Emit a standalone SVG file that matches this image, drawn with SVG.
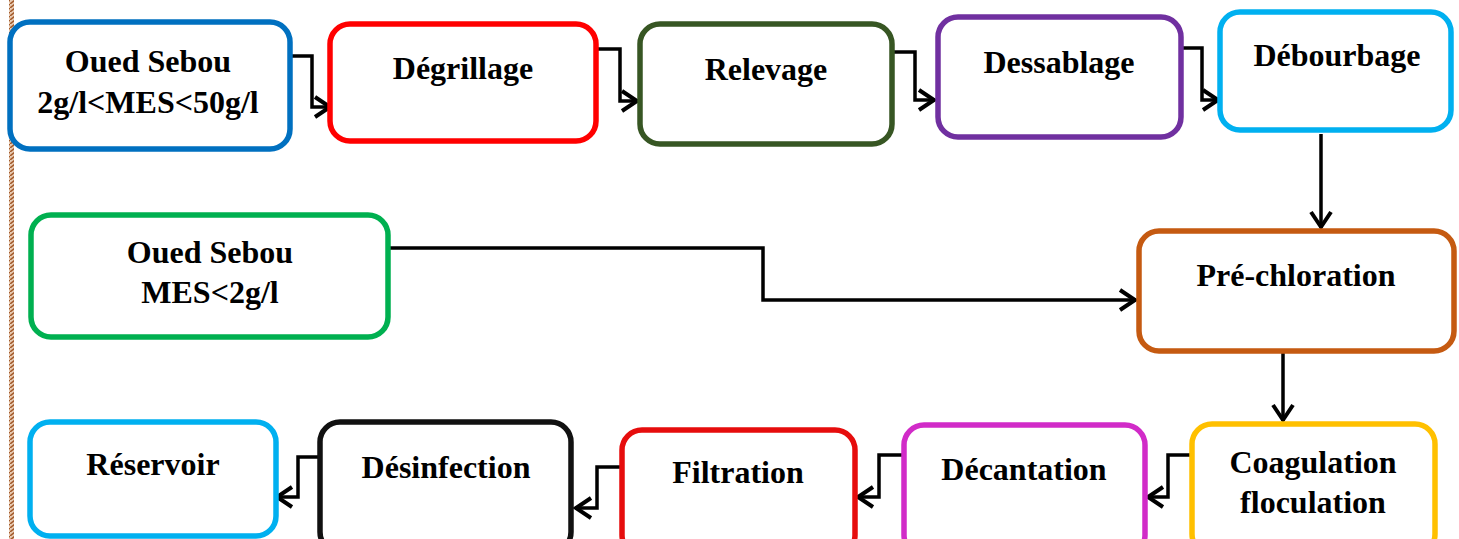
<svg xmlns="http://www.w3.org/2000/svg" width="1459" height="539" viewBox="0 0 1459 539">
  <defs>
    <style>
      .box { fill: #ffffff; stroke-width: 5.5; }
      .lbl { font-family: "Liberation Serif", "Times New Roman", serif; font-weight: bold; font-size: 32px; fill: #000000; text-anchor: middle; }
      .conn { fill: none; stroke: #000000; stroke-width: 3.5; marker-end: url(#arr); }
    </style>
    <marker id="arr" viewBox="-19 -14 22 28" markerWidth="22" markerHeight="28" refX="0" refY="0" orient="auto" markerUnits="userSpaceOnUse">
      <path d="M-16,-10 L-1,0 L-16,10" fill="none" stroke="#000000" stroke-width="4"/>
    </marker>
    <pattern id="hatch" width="5" height="4" patternUnits="userSpaceOnUse">
      <rect width="5" height="4" fill="#e8cbb3"/>
      <path d="M0,4 L5,0" stroke="#a35a2a" stroke-width="1.5"/>
    </pattern>
  </defs>

  <rect x="9" y="0" width="5" height="539" fill="url(#hatch)"/>

  <g id="connectors">
    <path class="conn" d="M292,56 H312 V107 H331"/>
    <path class="conn" d="M598,49 H620 V101 H638"/>
    <path class="conn" d="M893,52 H915 V100 H935"/>
    <path class="conn" d="M1182,48 H1202 V100 H1219"/>
    <path class="conn" d="M1321,134 V228"/>
    <path class="conn" d="M390,248 H763 V300 H1136"/>
    <path class="conn" d="M1283,353 V421"/>
    <path class="conn" d="M1192,455 H1168 V497 H1147"/>
    <path class="conn" d="M903,455 H879 V497 H857"/>
    <path class="conn" d="M620,467 H597 V508 H575"/>
    <path class="conn" d="M318,457 H298 V497 H276"/>
  </g>

  <g id="oued-sebou-1">
    <rect class="box" x="10" y="22" width="280" height="127" rx="20" stroke="#0070C0"/>
    <text class="lbl" x="148" y="72">Oued Sebou</text>
    <text class="lbl" x="148" y="113">2g/l&lt;MES&lt;50g/l</text>
  </g>
  <g id="degrillage">
    <rect class="box" x="330" y="24" width="266" height="117" rx="20" stroke="#FF0000"/>
    <text class="lbl" x="463" y="79">Dégrillage</text>
  </g>
  <g id="relevage">
    <rect class="box" x="640" y="24" width="252" height="120" rx="20" stroke="#375623"/>
    <text class="lbl" x="766" y="80">Relevage</text>
  </g>
  <g id="dessablage">
    <rect class="box" x="938" y="17" width="243" height="120" rx="20" stroke="#7030A0"/>
    <text class="lbl" x="1059" y="73">Dessablage</text>
  </g>
  <g id="debourbage">
    <rect class="box" x="1220" y="12" width="231" height="118" rx="20" stroke="#00B0F0"/>
    <text class="lbl" x="1337" y="66">Débourbage</text>
  </g>
  <g id="oued-sebou-2">
    <rect class="box" x="31" y="215" width="357" height="122" rx="20" stroke="#00B050"/>
    <text class="lbl" x="210" y="263">Oued Sebou</text>
    <text class="lbl" x="210" y="303">MES&lt;2g/l</text>
  </g>
  <g id="pre-chloration">
    <rect class="box" x="1139" y="231" width="315" height="120" rx="20" stroke="#C55A11"/>
    <text class="lbl" x="1296" y="286">Pré-chloration</text>
  </g>
  <g id="coagulation">
    <rect class="box" x="1192" y="424" width="243" height="130" rx="20" stroke="#FFC000"/>
    <text class="lbl" x="1313" y="473">Coagulation</text>
    <text class="lbl" x="1313" y="513">floculation</text>
  </g>
  <g id="decantation">
    <rect class="box" x="904" y="425" width="241" height="130" rx="20" stroke="#D12BC8"/>
    <text class="lbl" x="1024" y="480">Décantation</text>
  </g>
  <g id="filtration">
    <rect class="box" x="622" y="430" width="233" height="125" rx="20" stroke="#E60D0D"/>
    <text class="lbl" x="738" y="483">Filtration</text>
  </g>
  <g id="desinfection">
    <rect class="box" x="320" y="422" width="251" height="130" rx="20" stroke="#111111"/>
    <text class="lbl" x="446" y="478">Désinfection</text>
  </g>
  <g id="reservoir">
    <rect class="box" x="30" y="422" width="246" height="114" rx="20" stroke="#00B0F0"/>
    <text class="lbl" x="153" y="475">Réservoir</text>
  </g>
</svg>
